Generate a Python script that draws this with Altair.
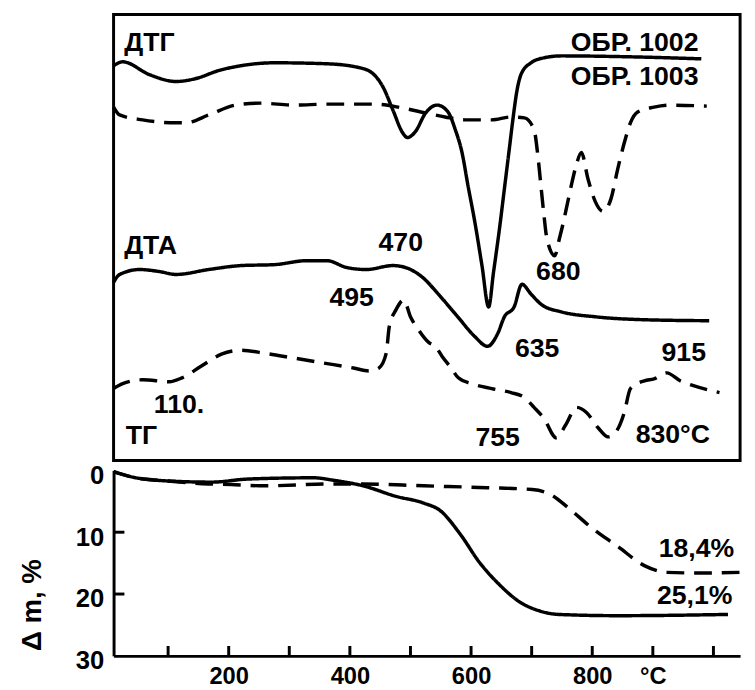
import altair as alt
import pandas as pd

# ---------------- data ----------------
# Upper panel (ДТГ / ДТА curves): temperature (°C) and signal (arbitrary units)
dtg_1002_t = [10, 25, 69, 113, 146, 183, 220, 276, 362, 416, 438, 455, 471, 487, 495, 508, 525, 544, 562, 574,
              585, 595, 606, 618, 629, 637, 647, 655, 663, 670, 675, 683, 699, 720, 749, 867, 980]
dtg_1002_v = [401, 405, 392, 385, 388, 396, 401, 404, 403, 399, 393, 379, 356, 333, 328, 334, 353, 361, 354, 336,
              313, 279, 243, 198, 156, 191, 236, 276, 316, 351, 373, 393, 404, 409, 411, 410, 408]

dtg_1003_t = [10, 20, 58, 113, 129, 167, 211, 253, 308, 362, 443, 487, 525, 557, 590, 634, 666, 688, 704, 710,
              715, 720, 725, 738, 746, 752, 759, 766, 774, 782, 793, 805, 818, 831, 842, 853, 863, 875, 902, 928, 989]
dtg_1003_v = [359, 351, 346, 343, 343, 351, 361, 363, 361, 362, 362, 358, 353, 349, 346, 346, 349, 348, 336, 311,
              281, 251, 226, 208, 226, 241, 261, 281, 301, 313, 286, 263, 253, 266, 296, 323, 343, 354, 359, 361, 360]

dta_1002_t = [10, 20, 53, 85, 113, 167, 220, 276, 329, 362, 395, 427, 471, 492, 520, 546, 578, 606, 627, 644,
              655, 671, 684, 699, 717, 749, 805, 886, 993]
dta_1002_v = [181, 189, 194, 192, 189, 194, 198, 199, 203, 203, 196, 194, 198, 196, 186, 169, 146, 126, 116, 129,
              146, 156, 179, 169, 158, 151, 146, 143, 142]

dta_1003_t = [10, 25, 58, 102, 123, 155, 188, 220, 259, 308, 357, 406, 432, 448, 460, 465, 476, 489, 500, 513,
              530, 541, 552, 567, 579, 601, 634, 666, 688, 704, 720, 741, 756, 774, 790, 810, 826, 839, 853, 863,
              886, 902, 923, 945, 967, 1010]
dta_1003_v = [73, 78, 82, 80, 84, 96, 108, 112, 109, 104, 99, 94, 91, 94, 109, 136, 153, 163, 146, 133,
              120, 116, 106, 94, 84, 78, 73, 69, 64, 54, 43, 23, 36, 54, 49, 33, 24, 29, 49, 73,
              81, 83, 89, 81, 76, 69]

# Lower panel (ТГ): mass loss Δm, %
tg_1002_t = [10, 42, 97, 172, 232, 341, 373, 422, 476, 522, 549, 582, 614, 647, 679, 712, 745, 842, 1024]
tg_1002_m = [0.2, 1.1, 1.7, 1.9, 1.4, 1.2, 1.6, 2.5, 4.2, 5.3, 6.5, 10.3, 14.9, 18.5, 21.2, 22.7, 23.3, 23.5, 23.3]

tg_1003_t = [10, 42, 97, 167, 204, 259, 367, 422, 522, 626, 701, 733, 761, 798, 842, 886, 923, 977, 1043]
tg_1003_m = [0.2, 1.1, 1.7, 2.2, 2.3, 2.5, 2.2, 2.2, 2.5, 2.8, 3.1, 4.0, 6.1, 9.2, 12.3, 15.4, 16.5, 16.6, 16.5]

# axis ticks / labels
x_ticks = [100, 200, 300, 400, 500, 600, 700, 800, 900, 1000]
x_labels = [200, 400, 600, 800, 900]
y_labels = [0, 10, 20, 30]
y_inner_ticks = [10, 20]

# annotations (text, temperature, value)
top_texts = ["ДТГ", "ОБР. 1002", "ОБР. 1003", "ДТА", "470", "495", "680", "635", "915", "110.", "ТГ", "755", "830°C"]
top_text_t = [69, 870, 870, 71, 484, 403, 744, 709, 951, 118, 56, 644, 933]
top_text_v = [424, 424, 389, 218, 221, 165, 191, 113, 109, 56, 25, 23, 26]

bot_texts = ["18,4%", "25,1%"]
bot_text_t = [972, 969]
bot_text_m = [12.8, 20.4]

# ---------------- build tables ----------------
rows = []
for name, smp, ts, vs in [("dtg1002", "1002", dtg_1002_t, dtg_1002_v),
                          ("dtg1003", "1003", dtg_1003_t, dtg_1003_v),
                          ("dta1002", "1002", dta_1002_t, dta_1002_v),
                          ("dta1003", "1003", dta_1003_t, dta_1003_v)]:
    for i, (t, v) in enumerate(zip(ts, vs)):
        rows.append({"curve": name, "sample": smp, "t": t, "v": v, "i": i})
top_df = pd.DataFrame(rows)

rows = []
for name, smp, ts, ms in [("tg1002", "1002", tg_1002_t, tg_1002_m),
                          ("tg1003", "1003", tg_1003_t, tg_1003_m)]:
    for i, (t, m) in enumerate(zip(ts, ms)):
        rows.append({"curve": name, "sample": smp, "t": t, "m": m, "i": i})
bot_df = pd.DataFrame(rows)

top_txt_df = pd.DataFrame({"label": top_texts, "t": top_text_t, "v": top_text_v})
bot_txt_df = pd.DataFrame({"label": bot_texts, "t": bot_text_t, "m": bot_text_m})

# ---------------- styling ----------------
W = 635
H_TOP = 452
H_BOT = 188
FONT = "Liberation Sans"
X_DOMAIN = [10, 1044]

xs = alt.Scale(domain=X_DOMAIN, nice=False, zero=False)
dash = alt.StrokeDash("sample:N", scale=alt.Scale(domain=["1002", "1003"], range=[[1, 0], [18, 10]]), legend=None)

# ---------------- upper panel ----------------
top_x = alt.X("t:Q", scale=xs, axis=None)
top_y = alt.Y("v:Q", scale=alt.Scale(domain=[0, 453], nice=False, zero=False), axis=None)

top_lines = alt.Chart(top_df).mark_line(color="black", strokeWidth=3.5, interpolate="monotone").encode(
    x=top_x, y=top_y, strokeDash=dash, detail="curve:N", order="i:Q"
)
top_text = alt.Chart(top_txt_df).mark_text(
    font=FONT, fontWeight="bold", fontSize=27, color="black", align="center", baseline="middle"
).encode(x=top_x, y=top_y, text="label:N")

top = alt.layer(top_lines, top_text).properties(
    width=W, height=H_TOP, view=alt.ViewBackground(stroke="black", strokeWidth=3)
)

# ---------------- lower panel ----------------
bot_x = alt.X("t:Q", scale=xs, axis=alt.Axis(
    values=x_labels, labelExpr="datum.value == 900 ? '°C' : datum.label", ticks=False, grid=False,
    domainColor="black", domainWidth=3, labelFont=FONT, labelFontSize=24, labelFontWeight="bold",
    labelColor="black", labelPadding=9, title=None, labelOverlap=False))
bot_y = alt.Y("m:Q", scale=alt.Scale(domain=[0, 30], reverse=True, nice=False, zero=False), axis=alt.Axis(
    values=y_labels, ticks=False, grid=False, domainColor="black", domainWidth=3,
    labelFont=FONT, labelFontSize=26, labelFontWeight="bold", labelColor="black", labelPadding=10,
    labelOffset=5, title="Δ m, %", titleFont=FONT, titleFontSize=28, titleFontWeight="bold",
    titleColor="black", titleX=-68, titleY=136))

bot_lines = alt.Chart(bot_df).mark_line(color="black", strokeWidth=3.5, interpolate="monotone").encode(
    x=bot_x, y=bot_y, strokeDash=dash, detail="curve:N", order="i:Q"
)
bot_text = alt.Chart(bot_txt_df).mark_text(
    font=FONT, fontWeight="bold", fontSize=27, color="black", align="center", baseline="middle"
).encode(x=bot_x, y=bot_y, text="label:N")

xt = alt.Chart(pd.DataFrame({"t": x_ticks})).mark_rule(color="black", strokeWidth=3).encode(
    x=bot_x, y=alt.value(H_BOT), y2=alt.value(H_BOT - 10))
yt = alt.Chart(pd.DataFrame({"m": y_inner_ticks})).mark_rule(color="black", strokeWidth=3).encode(
    y=bot_y, x=alt.value(0), x2=alt.value(11))

bottom = alt.layer(bot_lines, bot_text, xt, yt).properties(
    width=W, height=H_BOT, view=alt.ViewBackground(strokeOpacity=0)
)

chart = alt.vconcat(top, bottom, spacing=0).properties(
    padding={"left": 11, "top": 0, "right": 0, "bottom": 0},
    background="white",
).configure_view(stroke="black")

chart.save("out.html", embed_options={"renderer": "svg", "actions": False})
